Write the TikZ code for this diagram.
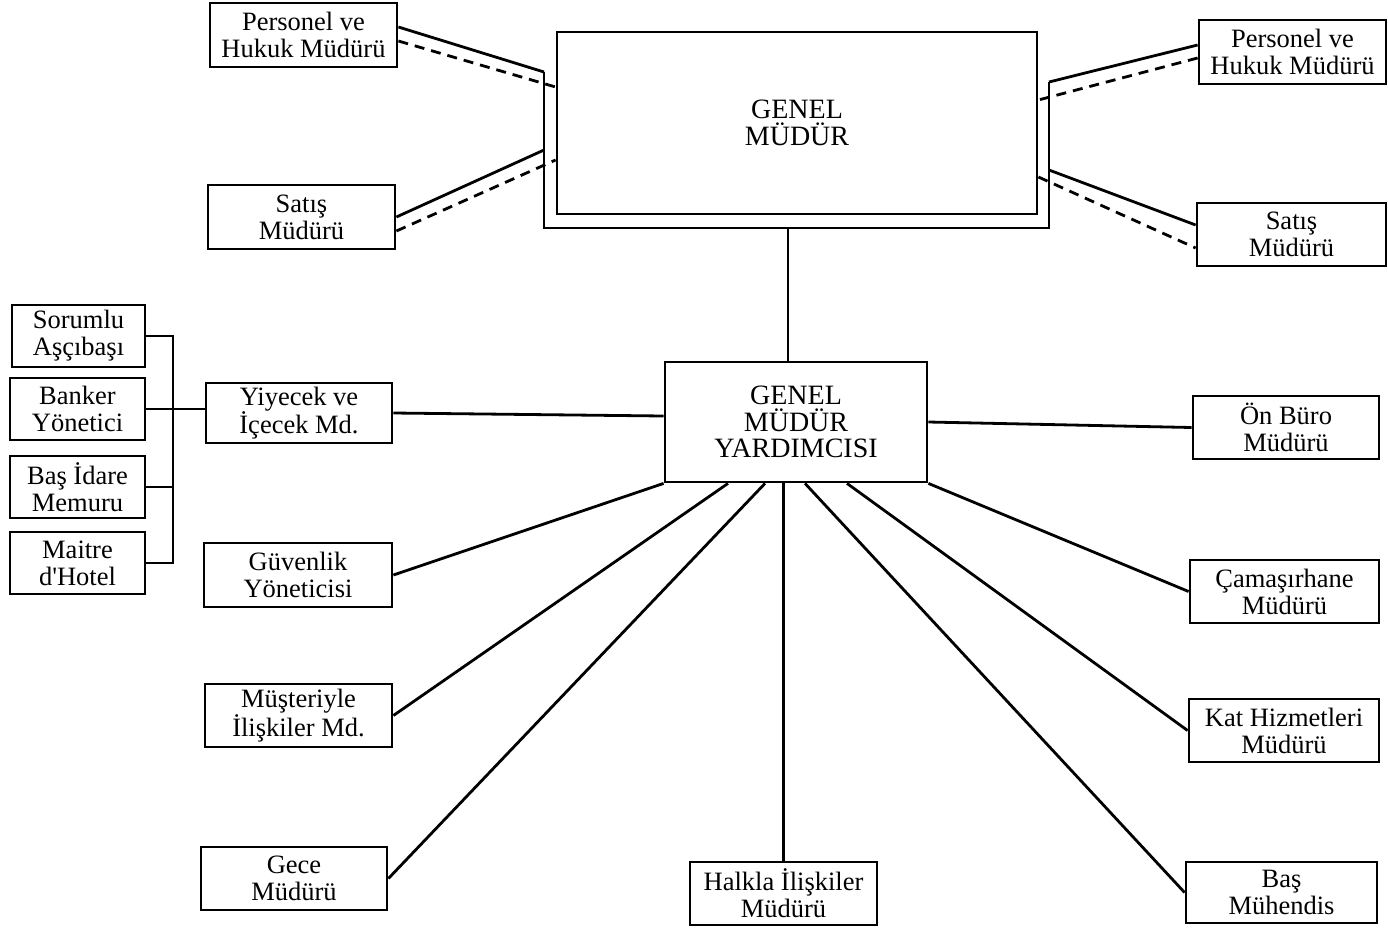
\documentclass[tikz,border=0pt]{standalone}
\usepackage{fontspec}
\setmainfont{Liberation Serif}
\tikzset{
  unit/.style={draw, line width=2.8pt, align=center, inner sep=0pt,
    font=\fontsize{26.5}{27}\selectfont},
  headunit/.style={unit, font=\fontsize{28}{26.5}\selectfont},
  link/.style={line width=2.8pt},
  dlink/.style={line width=2.8pt, dash pattern=on 10pt off 7pt}
}
\begin{document}
\begin{tikzpicture}[x=1pt, y=-1pt]
  \useasboundingbox (0,0) rectangle (1388,927);
  % top level
  \node[headunit, minimum width=480, minimum height=182] (gm) at (797,123) {GENEL\\MÜDÜR};
  \node[headunit, minimum width=262, minimum height=120] (gmy) at (796,422) {GENEL\\MÜDÜR\\YARDIMCISI};
  \node[unit, minimum width=187, minimum height=64] (pl) at (303.5,35) {Personel ve\\Hukuk Müdürü};
  \node[unit, minimum width=187, minimum height=64] (sl) at (301.5,217) {Satış\\Müdürü};
  \node[unit, minimum width=187, minimum height=64] (pr) at (1292.5,52) {Personel ve\\Hukuk Müdürü};
  \node[unit, minimum width=189, minimum height=63] (sr) at (1291.5,234.5) {Satış\\Müdürü};
  % left side
  \node[unit, minimum width=186, minimum height=60] (yi) at (299,413) {Yiyecek ve\\İçecek Md.};
  \node[unit, minimum width=188, minimum height=64] (gu) at (298,575) {Güvenlik\\Yöneticisi};
  \node[unit, minimum width=187, minimum height=63] (mu) at (298.5,715.5) {Müşteriyle\\İlişkiler Md.};
  \node[unit, minimum width=186, minimum height=63] (ge) at (294,878.5) {Gece\\Müdürü};
  \node[unit, minimum width=187, minimum height=63] (ha) at (783.5,893.5) {Halkla İlişkiler\\Müdürü};
  % right side
  \node[unit, minimum width=186, minimum height=63] (ob) at (1286,427.5) {Ön Büro\\Müdürü};
  \node[unit, minimum width=189, minimum height=63] (ca) at (1284.5,591.5) {Çamaşırhane\\Müdürü};
  \node[unit, minimum width=190, minimum height=63] (kh) at (1284,730.5) {Kat Hizmetleri\\Müdürü};
  \node[unit, minimum width=191, minimum height=61] (bm) at (1281.5,892.5) {Baş\\Mühendis};
  % kitchen staff
  \node[unit, minimum width=133, minimum height=62] (sa) at (78.5,336) {Sorumlu\\Aşçıbaşı};
  \node[unit, minimum width=135, minimum height=62] (bk) at (77.5,409) {Banker\\Yönetici};
  \node[unit, minimum width=135, minimum height=62] (bi) at (77.5,487) {Baş İdare\\Memuru};
  \node[unit, minimum width=135, minimum height=62] (mh) at (77.5,563) {Maitre\\d\textquotesingle Hotel};
  % frame round the general manager
  \coordinate (fl1) at (544,72);
  \coordinate (fl2) at (544,150);
  \coordinate (fr1) at (1049,82);
  \coordinate (fr2) at (1049,170);
  \coordinate (fbm) at (788,228);
  \coordinate (br) at (173,409);
  \draw[link] (fl1) |- (fbm) -| (fr1);
  \begin{scope}[link]
    \draw ([yshift=8pt]pl.east) -- (fl1);
    \draw (sl.east) -- (fl2);
    \draw ([yshift=7pt]pr.west) -- (fr1);
    \draw (fr2) -- ([yshift=9.5pt]sr.west);
    \draw (fbm) -- (fbm |- gmy.north);
    \draw (yi.east) -- ([yshift=6pt]gmy.west);
    \draw (gmy.east) -- (ob.west);
    \draw (gmy.south west) -- (gu.east);
    \draw ([xshift=-68pt]gmy.south) -- (mu.east);
    \draw ([xshift=-31pt]gmy.south) -- (ge.east);
    \draw (ha.north) -- (ha.north |- gmy.south);
    \draw ([xshift=9pt]gmy.south) -- (bm.west);
    \draw ([xshift=51pt]gmy.south) -- (kh.west);
    \draw (gmy.south east) -- (ca.west);
    \draw (sa.east) -| (br) |- (mh.east);
    \draw (bk.east) -- (bk.east -| yi.west);
    \draw (bi.east) -- (bi.east -| br);
  \end{scope}
  \begin{scope}[dlink]
    \draw ([yshift=-6pt]pl.east) -- ([yshift=36pt]gm.west);
    \draw ([yshift=-14pt]sl.east) -- ([yshift=-37pt]gm.west);
    \draw ([yshift=-6pt]pr.west) -- ([yshift=23pt]gm.east);
    \draw ([yshift=-54pt]gm.east) -- ([yshift=-13.5pt]sr.west);
  \end{scope}
\end{tikzpicture}
\end{document}
